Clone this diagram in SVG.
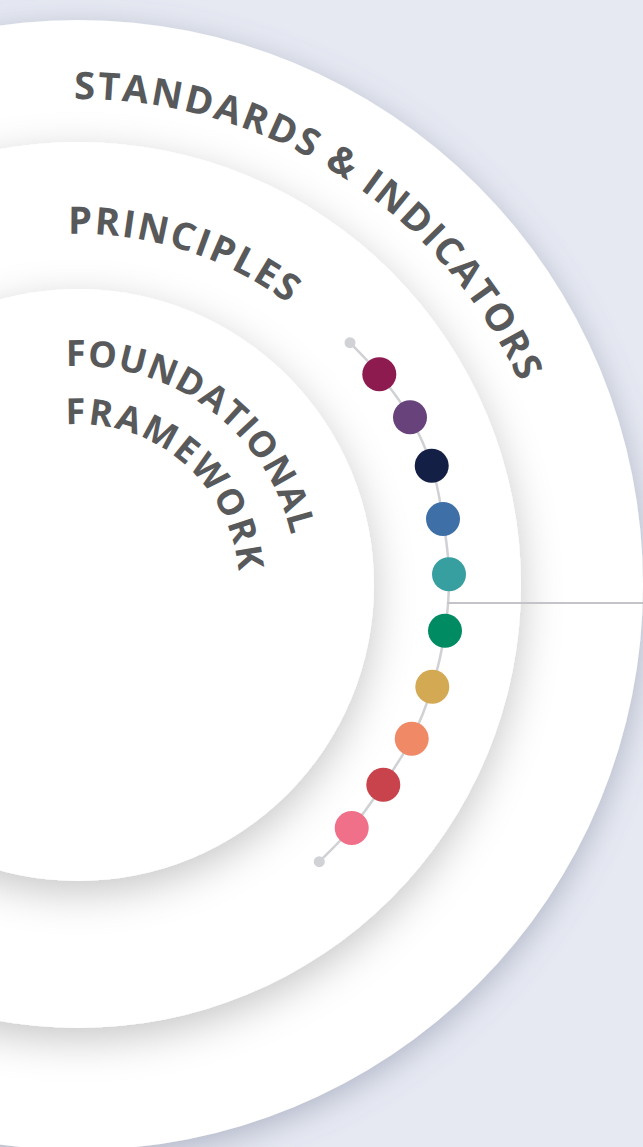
<svg xmlns="http://www.w3.org/2000/svg" width="643" height="1147" viewBox="0 0 643 1147">
  <style>
    .lbl { font-family: "Open Sans", "Noto Sans", sans-serif; font-weight: 700; fill: #58595b; }
    .ring { fill: #ffffff; }
    .dot { stroke: none; }
    .end { fill: #d1d2d6; }
  </style>
  <defs>
    <filter id="shOuter" x="-20%" y="-20%" width="140%" height="140%">
      <feGaussianBlur in="SourceAlpha" stdDeviation="16"/>
      <feOffset dx="0" dy="8" result="b"/>
      <feFlood flood-color="#6e7590" flood-opacity="0.45"/>
      <feComposite in2="b" operator="in"/>
      <feMerge><feMergeNode/><feMergeNode in="SourceGraphic"/></feMerge>
    </filter>
    <filter id="shInner" x="-20%" y="-20%" width="140%" height="140%">
      <feGaussianBlur in="SourceAlpha" stdDeviation="20"/>
      <feOffset dx="0" dy="12" result="b"/>
      <feFlood flood-color="#000000" flood-opacity="0.22"/>
      <feComposite in2="b" operator="in"/>
      <feMerge><feMergeNode/><feMergeNode in="SourceGraphic"/></feMerge>
    </filter>
    <path id="arcStd" d="M74,99 A486,486 0 0 1 562.1,542.6"/>
    <path id="arcPri" d="M68.2,234 A351,351 0 0 1 423.7,524"/>
    <path id="arcFou" d="M66.2,366.3 A219,219 0 0 1 293.7,622.9"/>
    <path id="arcFra" d="M65.9,424.5 A161,161 0 0 1 229.3,640.1"/>
  </defs>

  <rect x="0" y="0" width="643" height="1147" fill="#e6e9f2"/>

  <g id="standards-indicators">
    <circle class="ring" cx="78" cy="585" r="565" filter="url(#shOuter)"/>
  </g>
  <g id="principles">
    <circle class="ring" cx="78" cy="585" r="443" filter="url(#shInner)"/>
  </g>
  <g id="foundational-framework">
    <circle class="ring" cx="78" cy="585" r="296" filter="url(#shInner)"/>
  </g>

  <g id="labels">
    <text class="lbl" font-size="38"><textPath href="#arcStd" textLength="558" lengthAdjust="spacing">STANDARDS &amp; INDICATORS</textPath></text>
    <text class="lbl" font-size="38"><textPath href="#arcPri" textLength="235" lengthAdjust="spacing">PRINCIPLES</textPath></text>
    <text class="lbl" font-size="36"><textPath href="#arcFou" textLength="305" lengthAdjust="spacing">FOUNDATIONAL</textPath></text>
    <text class="lbl" font-size="36"><textPath href="#arcFra" textLength="251" lengthAdjust="spacing">FRAMEWORK</textPath></text>
  </g>

  <g id="connectors" fill="none">
    <path d="M350,342.7 C354.9,348 369.3,361.9 379.3,374.3 C389.3,386.7 401.3,402.1 410,417.3 C418.7,432.5 426.2,448.8 431.7,465.7 C437.2,482.7 440.1,500.9 443,519 C445.9,537.1 448.7,555.7 449,574.3 C449.3,592.9 447.8,612 445,630.7 C442.2,649.4 437.9,668.7 432.3,686.7 C426.8,704.7 419.9,722.4 411.7,738.7 C403.5,755 393.3,769.8 383.3,784.7 C373.3,799.6 362.4,815.2 351.7,828 C341,840.8 324.7,856.1 319.3,861.7" stroke="#d0d1d4" stroke-width="2.5"/>
    <line x1="447" y1="603" x2="643" y2="603" stroke="#c3c4c8" stroke-width="2"/>
  </g>

  <g id="dots">
    <circle class="end" cx="350" cy="342.7" r="5.5"/>
    <circle class="dot" cx="379.3" cy="374.3" r="17" fill="#8e1b50"/>
    <circle class="dot" cx="410" cy="417.3" r="17" fill="#67427b"/>
    <circle class="dot" cx="431.7" cy="465.7" r="17" fill="#131f44"/>
    <circle class="dot" cx="443" cy="519" r="17" fill="#3e6fa7"/>
    <circle class="dot" cx="449" cy="574.3" r="17" fill="#389fa1"/>
    <circle class="dot" cx="445" cy="630.7" r="17" fill="#008b63"/>
    <circle class="dot" cx="432.3" cy="686.7" r="17" fill="#d4a954"/>
    <circle class="dot" cx="411.7" cy="738.7" r="17" fill="#ef8966"/>
    <circle class="dot" cx="383.3" cy="784.7" r="17" fill="#c8434b"/>
    <circle class="dot" cx="351.7" cy="828" r="17" fill="#f06f89"/>
    <circle class="end" cx="319.3" cy="861.7" r="5.5"/>
  </g>
</svg>
